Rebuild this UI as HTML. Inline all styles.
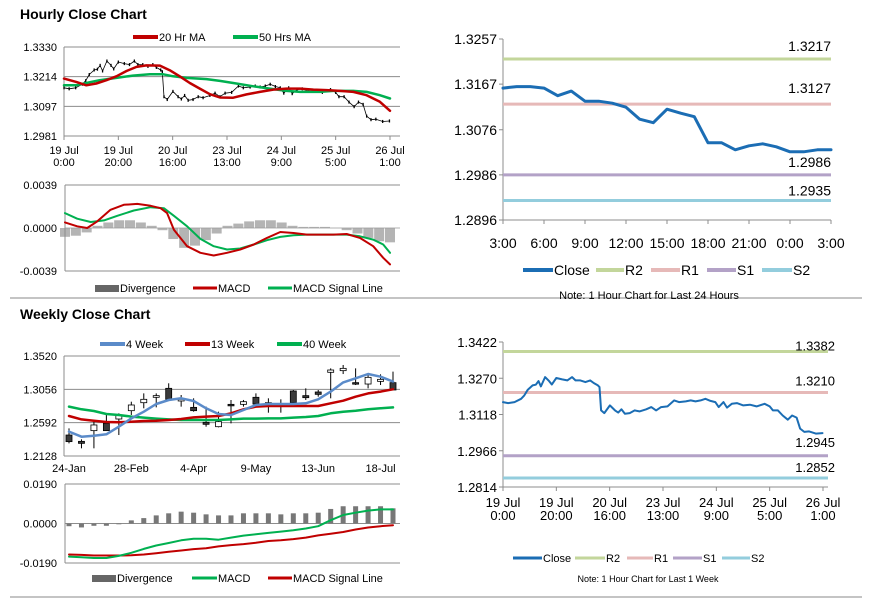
<!DOCTYPE html>
<html><head><meta charset="utf-8"><style>
html,body{margin:0;padding:0;background:#fff;width:873px;height:601px;overflow:hidden}
svg{display:block;font-family:"Liberation Sans",sans-serif}
</style></head><body>
<svg id="root" width="873" height="601" viewBox="0 0 873 601"></svg>
<script>
// ---- Hourly (1 week, hourly index) close data ----
const hrIdx=[0,1.9,4.3,6.8,8,9.3,11.1,12.3,13.3,14.2,15.8,17.3,18.3,20,22.2,24.1,25.9,27.2,29,30.9,32.7,34,35.6,36.2,36.8,38,40.1,42,43.2,44.4,45.7,47.5,49.4,51.2,53.7,55.6,57.4,59.3,61.7,64.2,66,68.5,70.4,72.2,74.1,75.9,77.8,79.6,80.9,82.7,84,85.8,87.7,90.1,92.6,95.1,98.1,100,101.2,103.1,104.9,106.8,108.4,110.1,111.4,113,114.8,117.3,119.8];
const hrClose=[1.3170,1.3166,1.3170,1.3184,1.3198,1.3222,1.3240,1.3243,1.3258,1.3236,1.3275,1.3258,1.3244,1.3271,1.3265,1.3261,1.3275,1.3261,1.3261,1.3254,1.3261,1.3250,1.3240,1.3233,1.3135,1.3124,1.3156,1.3135,1.3126,1.3140,1.3121,1.3124,1.3135,1.3131,1.3140,1.3149,1.3135,1.3149,1.3152,1.3177,1.3170,1.3173,1.3177,1.3173,1.3177,1.3184,1.3175,1.3170,1.3149,1.3170,1.3147,1.3163,1.3166,1.3156,1.3159,1.3152,1.3163,1.3152,1.3135,1.3135,1.3114,1.3096,1.3114,1.3105,1.3059,1.3045,1.3047,1.3038,1.3040];
const hrTickIdx=[0,20,40,60,80,100,120];
const hrTickL1=["19 Jul","19 Jul","20 Jul","23 Jul","24 Jul","25 Jul","26 Jul"];
const hrTickL2=["0:00","20:00","16:00","13:00","9:00","5:00","1:00"];
const ma20Idx=[0,4.5,8.2,11.9,15.6,19.3,23,26.7,30.3,35.3,38.9,42.6,46.3,50,53.7,57.4,62.3,67.2,72.1,77,81.9,86.9,91.8,96.7,101.6,106.5,111.4,116.3,120];
const ma20=[1.3206,1.3193,1.3180,1.3187,1.3200,1.3215,1.3236,1.3252,1.3258,1.3257,1.3239,1.3215,1.3189,1.3167,1.3145,1.3132,1.3131,1.3144,1.3154,1.3163,1.3167,1.3167,1.3163,1.3161,1.3158,1.3154,1.3141,1.3115,1.3080];
const ma50Idx=[0,4.5,8.2,13.1,19.3,25.4,31.6,36.5,40.2,45.1,52.5,57.4,62.3,69.7,77,81.9,86.9,94.2,99.1,106.5,111.4,116.3,120];
const ma50=[1.3180,1.3180,1.3189,1.3200,1.3209,1.3218,1.3223,1.3223,1.3215,1.3209,1.3204,1.3197,1.3189,1.3176,1.3165,1.3158,1.3154,1.3154,1.3158,1.3158,1.3154,1.3141,1.3128];
const hYTicks=[1.3330,1.3214,1.3097,1.2981];
// hourly MACD
const hMacdIdx=[0,4.5,8.2,11.9,16.8,21.7,26.7,31.6,35.3,37.7,40.2,45.1,50,54.9,59.8,64.7,69.7,74.6,79.5,84.4,89.3,94.2,99.1,104,108.9,113.8,117.5,120];
const hMacd=[0.00051,0.00015,0,0.0006,0.00165,0.0021,0.00219,0.00201,0.0018,0.00135,-0.00015,-0.00165,-0.00225,-0.00249,-0.00225,-0.00195,-0.0015,-0.0009,-0.00036,-0.00045,-0.0006,-0.0006,-0.0006,-0.00054,-0.0009,-0.00165,-0.0027,-0.0033];
const hSigIdx=[0,4.5,9.5,14.4,19.3,25.4,31.6,36.5,40.2,45.1,50,54.9,59.8,64.7,69.7,74.6,79.5,84.4,89.3,94.2,99.1,104,108.9,113.8,117.5,120];
const hSig=[0.00135,0.00084,0.00054,0.00069,0.00111,0.00159,0.00189,0.0018,0.00111,0.00015,-0.00099,-0.00165,-0.00195,-0.00186,-0.0015,-0.00111,-0.00081,-0.00066,-0.0006,-0.0006,-0.0006,-0.0006,-0.00075,-0.00105,-0.0015,-0.00225];
const hDivIdx=[0,4,8,12,16,20,24,28,32,36,40,44,48,52,56,60,64,68,72,76,80,84,88,92,96,100,104,108,112,116,120];
const hDiv=[-0.0008,-0.0007,-0.0004,0.0002,0.0005,0.0007,0.0007,0.0005,0.0002,-0.0002,-0.0010,-0.0018,-0.0016,-0.0011,-0.0005,0.0002,0.0004,0.0006,0.0007,0.0007,0.0005,0.0002,0.0001,0.0001,0.0001,0.0000,-0.0002,-0.0005,-0.0009,-0.0012,-0.0013];
const hMacdTicks=[0.0039,0,-0.0039];
const hMacdTickLabels=["0.0039","0.0000","-0.0039"];
// ---- 24h chart ----
const dayClose=[1.3159,1.3162,1.3162,1.3159,1.3144,1.3153,1.3133,1.3133,1.3129,1.3121,1.3097,1.3090,1.3117,1.3109,1.3102,1.3050,1.3050,1.3036,1.3044,1.3048,1.3042,1.3032,1.3032,1.3036,1.3036];
const dayTicks=["3:00","6:00","9:00","12:00","15:00","18:00","21:00","0:00","3:00"];
const dayYTicks=[1.3257,1.3167,1.3076,1.2986,1.2896];
const dayLevelNames=["R2","R1","S1","S2"];
const dayLevels=[1.3217,1.3127,1.2986,1.2935];
const wkLevels=[1.3382,1.3210,1.2945,1.2852];
const wkRYTicks=[1.3422,1.3270,1.3118,1.2966,1.2814];
// ---- Weekly ----
const wkLabels=["24-Jan","28-Feb","4-Apr","9-May","13-Jun","18-Jul"];
const wkLabelIdx=[0,5,10,15,20,25];
const wkOpen=[1.2420,1.2332,1.2481,1.2583,1.2643,1.2759,1.2870,1.2945,1.3070,1.2894,1.2805,1.2597,1.2536,1.2847,1.2847,1.2945,1.2870,1.2852,1.3033,1.2968,1.3019,1.3293,1.3316,1.3149,1.3130,1.3167,1.3149];
const wkHigh=[1.2513,1.2360,1.2606,1.2699,1.2722,1.2884,1.3000,1.3000,1.3140,1.2977,1.2931,1.2815,1.2745,1.2908,1.2908,1.3000,1.2931,1.2917,1.3047,1.3070,1.3047,1.3348,1.3395,1.3348,1.3256,1.3265,1.3302];
const wkLow=[1.2304,1.2235,1.2235,1.2481,1.2420,1.2699,1.2792,1.2805,1.2908,1.2815,1.2745,1.2536,1.2527,1.2583,1.2815,1.2824,1.2731,1.2731,1.2861,1.2908,1.2954,1.2931,1.3269,1.3116,1.3070,1.3116,1.3047];
const wkClose=[1.2328,1.2304,1.2560,1.2481,1.2699,1.2838,1.2917,1.2968,1.2917,1.2917,1.2759,1.2569,1.2606,1.2833,1.2884,1.2852,1.2852,1.2843,1.2870,1.2940,1.2986,1.3325,1.3348,1.3140,1.3223,1.3195,1.3047];
const ma4=[1.2467,1.2397,1.2411,1.2430,1.2536,1.2652,1.2745,1.2852,1.2908,1.2931,1.2894,1.2792,1.2713,1.2699,1.2768,1.2838,1.2852,1.2852,1.2852,1.2861,1.2917,1.3024,1.3153,1.3209,1.3269,1.3232,1.3163];
const ma13=[1.2685,1.2638,1.2620,1.2601,1.2597,1.2606,1.2615,1.2620,1.2629,1.2643,1.2666,1.2676,1.2685,1.2722,1.2778,1.2815,1.2824,1.2824,1.2824,1.2824,1.2824,1.2861,1.2898,1.2954,1.3000,1.3024,1.3056];
const ma40=[1.2815,1.2778,1.2754,1.2713,1.2699,1.2676,1.2662,1.2648,1.2638,1.2629,1.2629,1.2629,1.2629,1.2638,1.2648,1.2648,1.2652,1.2652,1.2662,1.2671,1.2685,1.2722,1.2745,1.2759,1.2778,1.2792,1.2805];
const wYTicks=[1.3520,1.3056,1.2592,1.2128];
const wDiv=[-0.0013,-0.0019,-0.0011,-0.0011,-0.0002,0.0015,0.0026,0.0039,0.0049,0.0057,0.0052,0.0044,0.0039,0.0039,0.0049,0.0049,0.0049,0.0044,0.0049,0.0049,0.0052,0.0070,0.0083,0.0083,0.0083,0.0083,0.0073];
const wMacd=[-0.0159,-0.0162,-0.0166,-0.0166,-0.0156,-0.0141,-0.0122,-0.0106,-0.0094,-0.0081,-0.0073,-0.0073,-0.0078,-0.0068,-0.0058,-0.0052,-0.0045,-0.0039,-0.0032,-0.0024,-0.0013,0.0016,0.0041,0.0052,0.0062,0.0068,0.0068];
const wSig=[-0.0149,-0.0151,-0.0154,-0.0154,-0.0154,-0.0153,-0.0149,-0.0143,-0.0136,-0.0130,-0.0123,-0.0119,-0.0110,-0.0104,-0.0099,-0.0093,-0.0084,-0.0081,-0.0075,-0.0068,-0.0057,-0.0049,-0.0041,-0.0029,-0.0019,-0.0013,-0.0008];
const wMacdTicks=[0.0190,0,-0.0190];
const wMacdTickLabels=["0.0190","0.0000","-0.0190"];

const NS="http://www.w3.org/2000/svg";
const root=document.getElementById('root');
function mk(tag,at,parent){const e=document.createElementNS(NS,tag);for(const k in at)e.setAttribute(k,at[k]);(parent||root).appendChild(e);return e;}
function lin(d0,d1,r0,r1){return v=>r0+(v-d0)*(r1-r0)/(d1-d0);}
function txt(x,y,s,size,anchor,name,extra){const t=mk('text',Object.assign({x:x,y:y,'font-size':size,'text-anchor':anchor||'start',fill:'#000'},extra||{}));t.textContent=s;


return t;}
function line(x1,y1,x2,y2,stroke,w,name){const l=mk('line',{x1:x1,y1:y1,x2:x2,y2:y2,stroke:stroke,'stroke-width':w});


return l;}
function poly(xs,ys,sx,sy,stroke,w,name){const pts=xs.map((x,i)=>sx(x).toFixed(1)+','+sy(ys[i]).toFixed(1)).join(' ');const p=mk('polyline',{points:pts,fill:'none',stroke:stroke,'stroke-width':w,'stroke-linejoin':'round','stroke-linecap':'round'});


return p;}
function legLine(x1,x2,y,color,w,label,name){line(x1,y,x2,y,color,w,name+'-swatch');txt(x2+1,y+4,label,11,'start',name+'-label');}
const GRID='#8c8c8c';
const RED='#c00000',GREEN='#00b050',BLUE='#5b8bc9',CLOSE='#1b6db4';
const LVC=['#c3d69b','#e6b9b8','#b3a2c7','#93cddd'];

// separators & titles
line(10,298,862,298,'#888',1,'section-separator');
line(10,597,862,597,'#888',1,'bottom-separator');
let t=txt(20,19,'Hourly Close Chart',14,'start','hourly-title',{'font-weight':'bold'});
t=txt(20,319,'Weekly Close Chart',14,'start','weekly-title',{'font-weight':'bold'});

// ===== Hourly price chart =====
{
const sx=lin(0,120,64,390), sy=lin(1.2981,1.3330,136,47);
hYTicks.forEach((v,i)=>{line(64,sy(v),400,sy(v),GRID,1,'hourly-gridline');txt(57,sy(v)+4,v.toFixed(4),11,'end','hourly-y-tick');});
line(64,47,64,136,GRID,1,'hourly-y-axis');
hrTickIdx.forEach((v,i)=>{line(sx(v),136,sx(v),140,GRID,1,'hourly-x-tickmark');txt(sx(v),154,hrTickL1[i],11,'middle','hourly-x-tick-day');txt(sx(v),166,hrTickL2[i],11,'middle','hourly-x-tick-time');});
hrIdx.forEach((v,i)=>{const b=line(sx(v),sy(hrClose[i]+0.0006),sx(v),sy(hrClose[i]-0.0006),'#000',1.3,'hourly-bar');});
poly(hrIdx,hrClose,sx,sy,'#000',0.8,'hourly-close-trace');
poly(ma50Idx,ma50,sx,sy,GREEN,2.5,'ma50-line');
poly(ma20Idx,ma20,sx,sy,RED,2.5,'ma20-line');
legLine(133,158,37,RED,4,'20 Hr MA','legend-ma20');
legLine(233,258,37,GREEN,4,'50 Hrs MA','legend-ma50');
}
// ===== Hourly MACD =====
{
const sx=lin(0,120,65,390), sy=lin(-0.0039,0.0039,271,185);
hDivIdx.forEach((v,i)=>{const y0=sy(0),y1=sy(hDiv[i]);const r=mk('rect',{x:sx(v)-5,y:Math.min(y0,y1),width:10,height:Math.abs(y1-y0),fill:'#b4b4b4'});

});
hMacdTicks.forEach((v,i)=>{txt(57,sy(v)+4,hMacdTickLabels[i],11,'end','hourly-macd-y-tick');});
line(65,sy(0.0039),65,sy(-0.0039),GRID,1,'hourly-macd-y-axis');
line(65,sy(0.0039),400,sy(0.0039),GRID,1,'hourly-macd-top-grid');
line(65,sy(-0.0039),400,sy(-0.0039),GRID,1,'hourly-macd-bottom-grid');
line(65,sy(0),400,sy(0),'#999',0.8,'hourly-macd-zero');
poly(hSigIdx,hSig,sx,sy,GREEN,2,'hourly-signal-line');
poly(hMacdIdx,hMacd,sx,sy,RED,2,'hourly-macd-line');
const r=mk('rect',{x:95,y:285,width:24,height:7,fill:'#666'});


txt(120,292,'Divergence',11,'start','legend-divergence-label');
legLine(193,217,288,RED,3,'MACD','legend-hourly-macd');
legLine(268,292,288,GREEN,3,'MACD Signal Line','legend-hourly-signal');
}
// ===== 24h chart (top right) =====
{
const sx=lin(0,24,503,831), sy=lin(1.2896,1.3257,220,39);
line(503,39,503,220,GRID,1,'day-y-axis');line(503,220,831,220,GRID,1,'day-x-axis');
dayYTicks.forEach(v=>{line(499,sy(v),503,sy(v),GRID,1,'day-y-tickmark');txt(497,sy(v)+5,v.toFixed(4),14,'end','day-y-tick');});
dayTicks.forEach((s,i)=>{const x=sx(i*3);line(x,220,x,224,GRID,1,'day-x-tickmark');txt(x,248,s,14,'middle','day-x-tick');});
const lblDy=[-6,-9,-6,-3];
dayLevels.forEach((v,i)=>{line(503,sy(v),831,sy(v),LVC[i],3,'day-level-'+dayLevelNames[i]);txt(831,sy(v)+lblDy[i]-2,v.toFixed(4),14,'end','day-level-label');});
poly(dayClose.map((v,i)=>i),dayClose,sx,sy,CLOSE,3,'day-close-line');
const lx=[[523,553,'Close',CLOSE],[596,624,'R2',LVC[0]],[651,680,'R1',LVC[1]],[707,736,'S1',LVC[2]],[762,792,'S2',LVC[3]]];
lx.forEach(a=>{line(a[0],270,a[1],270,a[3],4,'day-legend-swatch');txt(a[1]+1,275,a[2],14,'start','day-legend-label');});
txt(649,299,'Note: 1 Hour Chart for Last 24 Hours',11,'middle','day-note');
}
// ===== Weekly candles =====
{
const sx=lin(0,26,69,393), sy=lin(1.2128,1.3520,456,356);
wYTicks.forEach(v=>{line(64,sy(v),400,sy(v),GRID,1,'weekly-gridline');txt(57,sy(v)+4,v.toFixed(4),11,'end','weekly-y-tick');});
line(64,356,64,456,GRID,1,'weekly-y-axis');
wkLabelIdx.forEach((v,i)=>{txt(sx(v)+(i==0?0:0),472,wkLabels[i],11,'middle','weekly-x-tick');});
wkOpen.forEach((o,i)=>{const c=wkClose[i],x=sx(i);
line(x,sy(wkHigh[i]),x,sy(wkLow[i]),'#000',1,'weekly-candle-wick');
const top=sy(Math.max(o,c)),h=Math.max(1.5,Math.abs(sy(o)-sy(c)));
const r=mk('rect',{x:x-3,y:top,width:6,height:h,fill:c<o?'#3a3a3a':'#fff',stroke:'#000','stroke-width':0.8});

});
const idx=ma4.map((v,i)=>i);
poly(idx,ma40,sx,sy,GREEN,2.5,'ma40-line');
poly(idx,ma13,sx,sy,RED,2.5,'ma13-line');
poly(idx,ma4,sx,sy,BLUE,2.5,'ma4-line');
legLine(100,125,344,BLUE,4,'4 Week','legend-ma4');
legLine(185,210,344,RED,4,'13 Week','legend-ma13');
legLine(277,302,344,GREEN,4,'40 Week','legend-ma40');
}
// ===== Weekly MACD =====
{
const sx=lin(0,26,69,393), sy=lin(-0.0190,0.0190,563,484);
wMacdTicks.forEach((v,i)=>txt(57,sy(v)+4,wMacdTickLabels[i],11,'end','weekly-macd-y-tick'));
line(65,484,65,563,GRID,1,'weekly-macd-y-axis');
line(65,484,400,484,GRID,1,'weekly-macd-top-grid');
line(65,563,400,563,GRID,1,'weekly-macd-bottom-grid');
line(65,sy(0),400,sy(0),GRID,1,'weekly-macd-zero');
wDiv.forEach((v,i)=>{const y0=sy(0),y1=sy(v);const r=mk('rect',{x:sx(i)-2.5,y:Math.min(y0,y1),width:5,height:Math.max(0.8,Math.abs(y1-y0)),fill:'#777'});

});
const idx=wMacd.map((v,i)=>i);
poly(idx,wSig,sx,sy,RED,2,'weekly-signal-line');
poly(idx,wMacd,sx,sy,GREEN,2,'weekly-macd-line');
const r=mk('rect',{x:92,y:575,width:24,height:7,fill:'#666'});


txt(117,582,'Divergence',11,'start','legend-weekly-divergence-label');
legLine(192,217,578,GREEN,3,'MACD','legend-weekly-macd');
legLine(268,292,578,RED,3,'MACD Signal Line','legend-weekly-signal');
}
// ===== Week hourly close (bottom right) =====
{
const sx=lin(0,120,503,823), sy=lin(1.2814,1.3422,487,342);
line(503,342,503,487,GRID,1,'week-y-axis');line(503,487,828,487,GRID,1,'week-x-axis');
wkRYTicks.forEach(v=>{line(499,sy(v),503,sy(v),GRID,1,'week-y-tickmark');txt(497,sy(v)+5,v.toFixed(4),13,'end','week-y-tick');});
hrTickIdx.forEach((v,i)=>{line(sx(v),487,sx(v),491,GRID,1,'week-x-tickmark');txt(sx(v),507,hrTickL1[i],13,'middle','week-x-tick-day');txt(sx(v),520,hrTickL2[i],13,'middle','week-x-tick-time');});
const dy=[0,-6,-8,-5];
wkLevels.forEach((v,i)=>{line(503,sy(v),828,sy(v),LVC[i],3,'week-level-'+dayLevelNames[i]);txt(835,sy(v)+dy[i]-1,v.toFixed(4),13,'end','week-level-label');});
poly(hrIdx,hrClose,sx,sy,CLOSE,2,'week-close-line');
const lx=[[513,542,'Close',CLOSE],[575,605,'R2',LVC[0]],[627,653,'R1',LVC[1]],[673,702,'S1',LVC[2]],[722,750,'S2',LVC[3]]];
lx.forEach(a=>{line(a[0],558,a[1],558,a[3],3,'week-legend-swatch');txt(a[1]+1,562,a[2],11,'start','week-legend-label');});
txt(648,582,'Note: 1 Hour Chart for  Last 1 Week',9,'middle','week-note');
}
</script>
</body></html>
